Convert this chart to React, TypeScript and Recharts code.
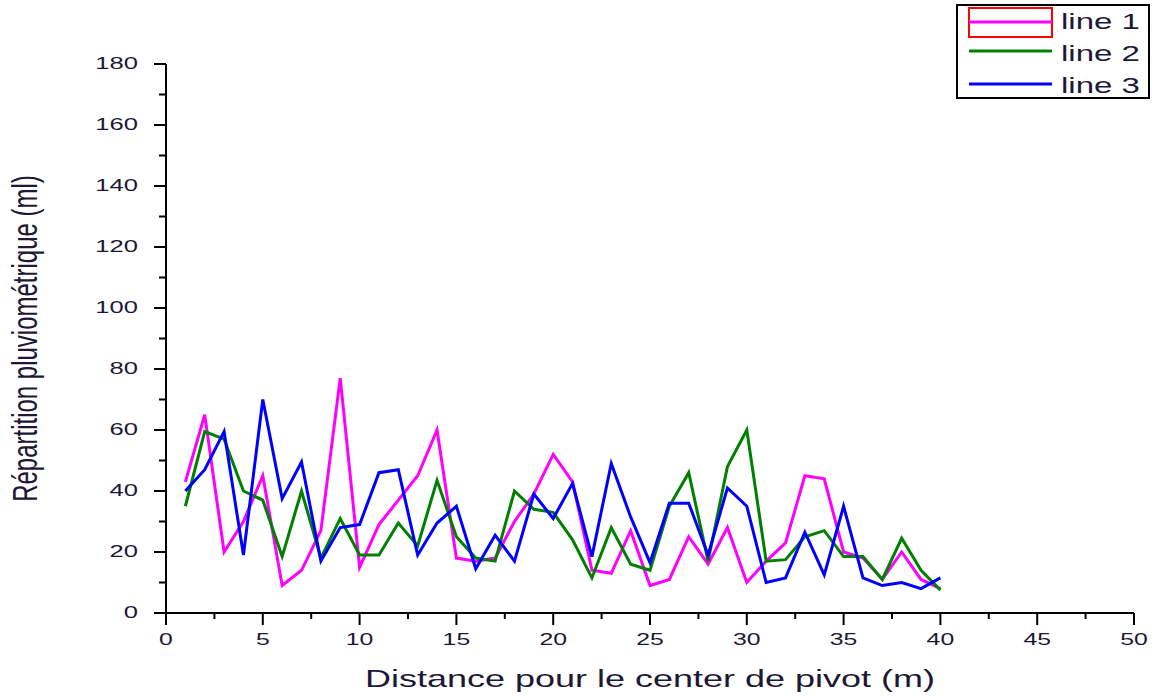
import { LineChart, Line, XAxis, YAxis, Legend } from 'recharts';

// distance from pivot (m)
const distances = [
  1, 2, 3, 4, 5, 6, 7, 8, 9, 10, 11, 12, 13, 14, 15, 16, 17, 18, 19, 20,
  21, 22, 23, 24, 25, 26, 27, 28, 29, 30, 31, 32, 33, 34, 35, 36, 37, 38, 39, 40,
];

const line1 = [
  43, 65, 20, 30, 45, 9, 14, 27, 77, 15, 29, 37, 45, 60, 18, 17, 18, 30, 39, 52,
  43, 14, 13, 27, 9, 11, 25, 16, 28, 10, 17, 23, 45, 44, 20, 18, 11, 20, 11, 8,
];
const line2 = [
  35, 59.5, 57, 40, 37, 18.5, 40, 18, 31, 19, 19, 29.5, 22, 43.5, 25, 18, 17, 40, 34, 33,
  24, 11.5, 28, 16, 14, 35, 46, 17, 48, 60, 17, 17.5, 25, 27, 18.5, 18.5, 11, 24.5, 14, 7.5,
];
const line3 = [
  40, 47, 59.5, 19, 70, 37.5, 49.5, 17, 28, 29, 46, 47, 19, 29.5, 35, 14.5, 25.5, 17, 39, 31,
  42.5, 18.5, 49, 31.5, 16.5, 36, 36, 19, 41, 35, 10, 11.5, 26.5, 12.5, 35, 11.5, 9, 10, 8, 11.5,
];

const seriesNames = ['line 1', 'line 2', 'line 3'];
const seriesColors = ['#ff00ff', '#008000', '#0000ff'];

const xTicks = [0, 2.5, 5, 7.5, 10, 12.5, 15, 17.5, 20, 22.5, 25, 27.5, 30, 32.5, 35, 37.5, 40, 42.5, 45, 47.5, 50];
const yTicks = [0, 10, 20, 30, 40, 50, 60, 70, 80, 90, 100, 110, 120, 130, 140, 150, 160, 170, 180];

const data = distances.map((d, i) => ({ d, l1: line1[i], l2: line2[i], l3: line3[i] }));

const FONT = '"Liberation Sans", Arial, sans-serif';
const TEXT = '#1c1836';
const STRETCH = 1.55;

function XTick({ x, y, payload }: any) {
  const v = payload.value;
  const major = v % 5 === 0;
  return (
    <g>
      <line x1={x} y1={y} x2={x} y2={y + (major ? 12 : 6)} stroke="#000" strokeWidth={2} />
      {major && (
        <text
          transform={`translate(${x},${y + 32}) scale(${STRETCH},1)`}
          textAnchor="middle"
          fontFamily={FONT}
          fontSize={16}
          fill={TEXT}
        >
          {v}
        </text>
      )}
    </g>
  );
}

function YTick({ x, y, payload }: any) {
  const v = payload.value;
  const major = v % 20 === 0;
  return (
    <g>
      <line x1={x - (major ? 12 : 7)} y1={y} x2={x} y2={y} stroke="#000" strokeWidth={2} />
      {major && (
        <text
          transform={`translate(${x - 28},${y + 5}) scale(${STRETCH},1)`}
          textAnchor="end"
          fontFamily={FONT}
          fontSize={16.5}
          fill={TEXT}
        >
          {v}
        </text>
      )}
    </g>
  );
}

function XTitle({ viewBox }: any) {
  const cx = viewBox.x + viewBox.width / 2;
  return (
    <text
      transform={`translate(${cx},687) scale(1.5,1)`}
      textAnchor="middle"
      fontFamily={FONT}
      fontSize={24}
      fill={TEXT}
    >
      Distance pour le center de pivot (m)
    </text>
  );
}

function YTitle({ viewBox }: any) {
  const cy = viewBox.y + viewBox.height / 2;
  return (
    <text
      transform={`translate(37,${cy}) scale(1.45,1) rotate(-90)`}
      textAnchor="middle"
      fontFamily={FONT}
      fontSize={24}
      fill={TEXT}
    >
      Répartition pluviométrique (ml)
    </text>
  );
}

function LegendBox() {
  const rows = [18, 47, 80];
  const textY = [25, 57, 89];
  return (
    <svg width={194} height={95} style={{ display: 'block' }}>
      <rect x={1} y={1} width={192} height={93} fill="#fff" stroke="#000" strokeWidth={2} />
      <rect x={13} y={4} width={83} height={29} fill="none" stroke="#ff0000" strokeWidth={2} />
      {seriesNames.map((name, i) => (
        <g key={name}>
          <line x1={13} y1={rows[i]} x2={96} y2={rows[i]} stroke={seriesColors[i]} strokeWidth={3} />
          <text
            transform={`translate(105,${textY[i]}) scale(1.5,1)`}
            fontFamily={FONT}
            fontSize={22}
            fill={TEXT}
          >
            {name}
          </text>
        </g>
      ))}
    </svg>
  );
}

export default function App() {
  return (
    <div style={{ position: 'absolute', left: 0, top: 0, width: 1154, height: 697, background: '#fff' }}>
      <LineChart width={1154} height={697} data={data} margin={{ top: 64, right: 20, bottom: 44, left: 66 }}>
        <XAxis
          dataKey="d"
          type="number"
          domain={[0, 50]}
          ticks={xTicks}
          interval={0}
          height={40}
          tickSize={0}
          tickMargin={0}
          tickLine={false}
          axisLine={{ stroke: '#000', strokeWidth: 2 }}
          tick={<XTick />}
          label={{ content: <XTitle /> }}
        />
        <YAxis
          type="number"
          domain={[0, 180]}
          ticks={yTicks}
          interval={0}
          width={100}
          tickSize={0}
          tickMargin={0}
          tickLine={false}
          axisLine={{ stroke: '#000', strokeWidth: 2 }}
          tick={<YTick />}
          label={{ content: <YTitle /> }}
        />
        <Legend
          layout="horizontal"
          verticalAlign="middle"
          align="center"
          wrapperStyle={{ top: 4, left: 956, width: 194, height: 95 }}
          content={() => <LegendBox />}
        />
        <Line type="linear" dataKey="l1" name={seriesNames[0]} stroke={seriesColors[0]} strokeWidth={3} dot={false} isAnimationActive={false} />
        <Line type="linear" dataKey="l2" name={seriesNames[1]} stroke={seriesColors[1]} strokeWidth={3} dot={false} isAnimationActive={false} />
        <Line type="linear" dataKey="l3" name={seriesNames[2]} stroke={seriesColors[2]} strokeWidth={3} dot={false} isAnimationActive={false} />
      </LineChart>
    </div>
  );
}
